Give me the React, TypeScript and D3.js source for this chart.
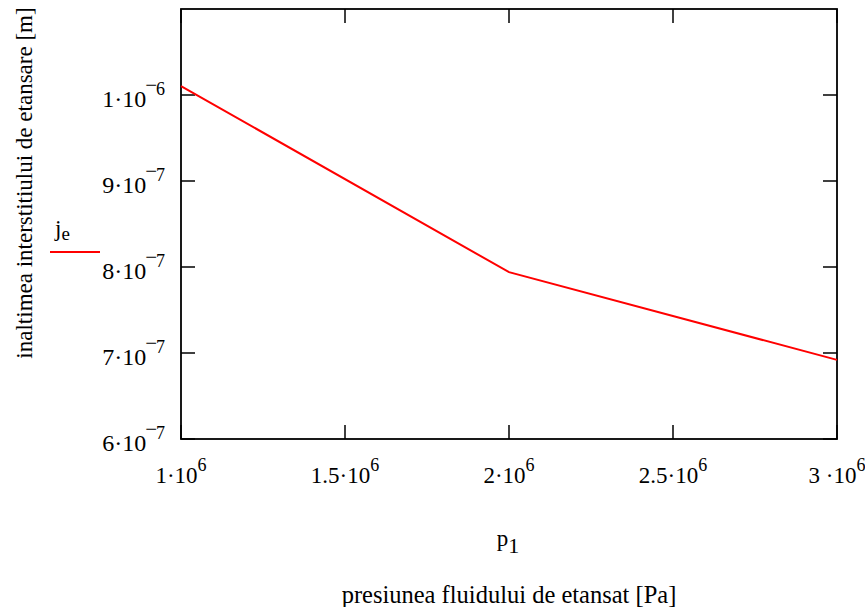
import React from 'react'
import * as d3 from 'd3'

// p1 [Pa] vs je [m]
const pressures = [1e6, 2e6, 3e6]
const heights = [1.0104e-6, 7.94e-7, 6.92e-7]

const xTicks = [1e6, 1.5e6, 2e6, 2.5e6, 3e6]
const xTickMantissa = ['1·10', '1.5·10', '2·10', '2.5·10', '3 ·10']
const xTickExp = ['6', '6', '6', '6', '6']

const yTicks = [6e-7, 7e-7, 8e-7, 9e-7, 1e-6]
const yTickMantissa = ['6·10', '7·10', '8·10', '9·10', '1·10']
const yTickExp = ['7', '7', '7', '7', '6']

const W = 865
const H = 607
const left = 181
const right = 837
const top = 9
const bottom = 439
const font = '"Liberation Serif", "Times New Roman", serif'

const App = () => {
    const x = d3.scaleLinear().domain([1e6, 3e6]).range([left, right])
    const y = d3.scaleLinear().domain([6e-7, 1.1e-6]).range([bottom, top])

    const line = d3.line<number>()
        .x((d, i) => x(pressures[i]))
        .y(d => y(d))

    const tickLen = 14

    return (
        <svg width={W} height={H} style={{ position: 'absolute', left: 0, top: 0 }}
            fontFamily={font}>
            <rect width={W} height={H} fill="white" />

            {/* frame */}
            <rect x={left} y={top} width={right - left} height={bottom - top}
                fill="none" stroke="black" strokeWidth={1.8} />

            {xTicks.map((t, i) => (
                <g key={`xt-${i}`}>
                    <line x1={x(t)} x2={x(t)} y1={bottom} y2={bottom - tickLen} stroke="black" strokeWidth={1.5} />
                    <line x1={x(t)} x2={x(t)} y1={top} y2={top + tickLen} stroke="black" strokeWidth={1.5} />
                    <text x={x(t)} y={483} fontSize={23} textAnchor="middle">
                        {xTickMantissa[i]}
                        <tspan fontSize={18} dy={-12}>{xTickExp[i]}</tspan>
                    </text>
                </g>
            ))}

            {yTicks.map((t, i) => (
                <g key={`yt-${i}`}>
                    <line x1={left} x2={left + tickLen} y1={y(t)} y2={y(t)} stroke="black" strokeWidth={1.5} />
                    <line x1={right} x2={right - tickLen} y1={y(t)} y2={y(t)} stroke="black" strokeWidth={1.5} />
                    <text x={165} y={y(t) + 12} fontSize={24} textAnchor="end">
                        {yTickMantissa[i]}
                        <tspan fontSize={21} dy={-15} dx={-1}>{'\u2212'}</tspan>
                        <tspan fontSize={18} dy={3} dx={-1}>{yTickExp[i]}</tspan>
                    </text>
                </g>
            ))}

            <path d={line(heights) || ''} fill="none" stroke="#ff0000" strokeWidth={2} />

            {/* legend */}
            <text x={55} y={236} fontSize={23}>
                j<tspan fontSize={19} dy={4}>e</tspan>
            </text>
            <line x1={50} x2={100} y1={252} y2={252} stroke="#ff0000" strokeWidth={2} />

            {/* axis titles */}
            <text x={508} y={546} fontSize={23} textAnchor="middle">
                p<tspan fontSize={22} dy={7}>1</tspan>
            </text>
            <text x={509} y={603} fontSize={24.5} textAnchor="middle">
                presiunea fluidului de etansat [Pa]
            </text>
            <text transform="translate(32,183) rotate(-90)" fontSize={23} textAnchor="middle">
                inaltimea interstitiului de etansare [m]
            </text>
        </svg>
    )
}

export default App
